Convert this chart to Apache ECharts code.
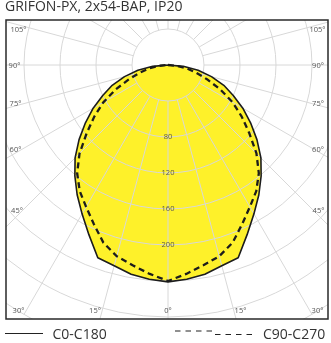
<!DOCTYPE html>
<html>
<head>
<meta charset="utf-8">
<script src="https://cdn.jsdelivr.net/npm/echarts@6.0.0/dist/echarts.min.js"></script>
<style>
  html, body { margin: 0; padding: 0; background: #fff; }
  #chart { width: 331px; height: 343px; }
</style>
</head>
<body>
<div id="chart"></div>
<script>
// ---------- data ----------
const TITLE = 'GRIFON-PX, 2x54-BAP, IP20';
const SERIES_NAMES = ['C0-C180', 'C90-C270'];
// gamma angles (deg from nadir)
const GAMMA = [0, 5, 10, 15, 20, 25, 30, 35, 40, 45, 50, 55, 60, 65, 70, 75, 80, 85, 90];
// luminous intensity (cd/klm)
const C0_C180 = [241, 239, 236, 231, 228, 208, 191, 176, 161, 146, 129, 112, 96, 80, 66, 50, 34, 17, 0];
const C90_C270 = [240, 233, 226, 220, 210, 195, 182, 171, 157, 139, 118, 100, 83, 64, 46, 32, 21, 10, 0];
// radial tick labels shown
const RADIUS_LABELS = [80, 120, 160, 200];
// angle tick labels
const SIDE_ANGLE_LABELS = ['105°', '90°', '75°', '60°', '45°'];
const BOTTOM_ANGLE_LABELS = ['30°', '15°', '0°', '15°', '30°'];

// ---------- layout ----------
const W = 331, H = 343;
const CENTER = [168, 65];
const PX_PER_UNIT = 0.9;
const R_MIN = 40, R_MAX = 320, R_STEP = 40;
const BOX = { left: 6, top: 20, right: 328, bottom: 319 };
const SIDE_LABEL_Y = [29.5, 65.5, 103.5, 149.5, 210.5];
const LEFT_LABEL_X = [18.5, 14.5, 15.5, 15.5, 17];
const RIGHT_LABEL_X = [317.5, 318, 318, 318, 318.5];
const BOTTOM_LABEL_X = [18.5, 95, 168, 240.5, 317.5];
const BOTTOM_LABEL_Y = 310.5;
const YELLOW = '#fef12a';
const GRID = '#d8d8d8';
const INK = '#1c1c1c';
const FONT = '"Open Sans", "Noto Sans", sans-serif';

function polarData(vals) {
  const right = GAMMA.map((g, i) => [vals[i], g]).reverse();
  const left = GAMMA.slice(1).map((g, i) => [vals[i + 1], 360 - g]);
  return right.concat(left);
}

const chart = echarts.init(document.getElementById('chart'), null, { renderer: 'canvas', width: W, height: H });

const graphics = [
  { type: 'rect', shape: { x: 0, y: 0, width: W, height: BOX.top }, style: { fill: '#fff' }, z: 100, silent: true },
  { type: 'rect', shape: { x: 0, y: BOX.bottom, width: W, height: H - BOX.bottom }, style: { fill: '#fff' }, z: 100, silent: true },
  { type: 'rect', shape: { x: 0, y: 0, width: BOX.left, height: H }, style: { fill: '#fff' }, z: 100, silent: true },
  { type: 'rect', shape: { x: BOX.right, y: 0, width: W - BOX.right, height: H }, style: { fill: '#fff' }, z: 100, silent: true },
  { type: 'rect', shape: { x: BOX.left, y: BOX.top, width: BOX.right - BOX.left, height: BOX.bottom - BOX.top },
    style: { fill: 'none', stroke: '#2a2a2a', lineWidth: 1.5 }, z: 101, silent: true },
  { type: 'text', x: 5, y: 7.5, style: { text: TITLE, fontSize: 14, fontFamily: FONT, fill: '#333', align: 'left', verticalAlign: 'middle' }, z: 102 },
  // legend
  { type: 'line', shape: { x1: 5, y1: 333.5, x2: 43, y2: 333.5 }, style: { stroke: '#222', lineWidth: 1 }, z: 102 },
  { type: 'text', x: 52.5, y: 335, style: { text: SERIES_NAMES[0], fontSize: 14, fontFamily: FONT, fill: '#333', align: 'left', verticalAlign: 'middle' }, z: 102 },
  { type: 'line', shape: { x1: 175, y1: 331, x2: 213, y2: 331 }, style: { stroke: '#222', lineWidth: 1.2, lineDash: [5.5, 5] }, z: 102 },
  { type: 'line', shape: { x1: 215, y1: 334.5, x2: 253, y2: 334.5 }, style: { stroke: '#222', lineWidth: 1.2, lineDash: [5.5, 5] }, z: 102 },
  { type: 'text', x: 263, y: 335, style: { text: SERIES_NAMES[1], fontSize: 14, fontFamily: FONT, fill: '#333', align: 'left', verticalAlign: 'middle' }, z: 102 }
];
SIDE_ANGLE_LABELS.forEach((t, i) => {
  graphics.push({ type: 'text', x: LEFT_LABEL_X[i], y: SIDE_LABEL_Y[i], style: { text: t, fontSize: 7.5, fontFamily: FONT, fill: '#555', align: 'center', verticalAlign: 'middle' }, z: 102 });
  graphics.push({ type: 'text', x: RIGHT_LABEL_X[i], y: SIDE_LABEL_Y[i], style: { text: t, fontSize: 7.5, fontFamily: FONT, fill: '#555', align: 'center', verticalAlign: 'middle' }, z: 102 });
});
BOTTOM_ANGLE_LABELS.forEach((t, i) => {
  graphics.push({ type: 'text', x: BOTTOM_LABEL_X[i], y: BOTTOM_LABEL_Y, style: { text: t, fontSize: 7.5, fontFamily: FONT, fill: '#555', align: 'center', verticalAlign: 'middle' }, z: 102 });
});

const solidData = polarData(C0_C180);
const dashData = polarData(C90_C270);

chart.setOption({
  animation: false,
  polar: [
    // data polar: 0 at the centre
    { center: CENTER, radius: [0, R_MAX * PX_PER_UNIT] },
    // grid polar: grid starts at the first ring (same px/unit scale)
    { center: CENTER, radius: [R_MIN * PX_PER_UNIT, R_MAX * PX_PER_UNIT] }
  ],
  angleAxis: [
    { polarIndex: 0, type: 'value', min: 0, max: 360, interval: 15, startAngle: 270, clockwise: false,
      axisLine: { show: false }, axisTick: { show: false }, axisLabel: { show: false }, splitLine: { show: false } },
    { polarIndex: 1, type: 'value', min: 0, max: 360, interval: 15, startAngle: 270, clockwise: false,
      axisLine: { show: false }, axisTick: { show: false }, axisLabel: { show: false },
      splitLine: { show: true, lineStyle: { color: GRID, width: 1 } }, z: 3 }
  ],
  radiusAxis: [
    { polarIndex: 0, type: 'value', min: 0, max: R_MAX, interval: R_STEP,
      axisLine: { show: false }, axisTick: { show: false }, axisLabel: { show: false }, splitLine: { show: false } },
    { polarIndex: 1, type: 'value', min: R_MIN, max: R_MAX, interval: R_STEP,
      axisLine: { show: false }, axisTick: { show: false },
      splitLine: { show: true, lineStyle: { color: GRID, width: 1 } },
      axisLabel: {
        show: true, margin: 0, align: 'center', verticalAlign: 'middle',
        fontSize: 7.5, fontFamily: FONT, color: '#555',
        formatter: v => RADIUS_LABELS.includes(v) ? String(v) : ''
      },
      z: 3 }
  ],
  series: [
    { type: 'line', coordinateSystem: 'polar', polarIndex: 0, name: 'fill', data: solidData, symbol: 'none', clip: false,
      lineStyle: { width: 0 }, areaStyle: { color: YELLOW, opacity: 1, origin: 0 }, z: 1, silent: true },
    { type: 'line', coordinateSystem: 'polar', polarIndex: 0, name: SERIES_NAMES[0], data: solidData, symbol: 'none', clip: false,
      lineStyle: { color: INK, width: 1.6 }, z: 5 },
    { type: 'line', coordinateSystem: 'polar', polarIndex: 0, name: SERIES_NAMES[1], data: dashData, symbol: 'none', clip: false,
      lineStyle: { color: INK, width: 2.3, type: [6, 4] }, z: 5 }
  ],
  graphic: { elements: graphics }
});
</script>
</body>
</html>
